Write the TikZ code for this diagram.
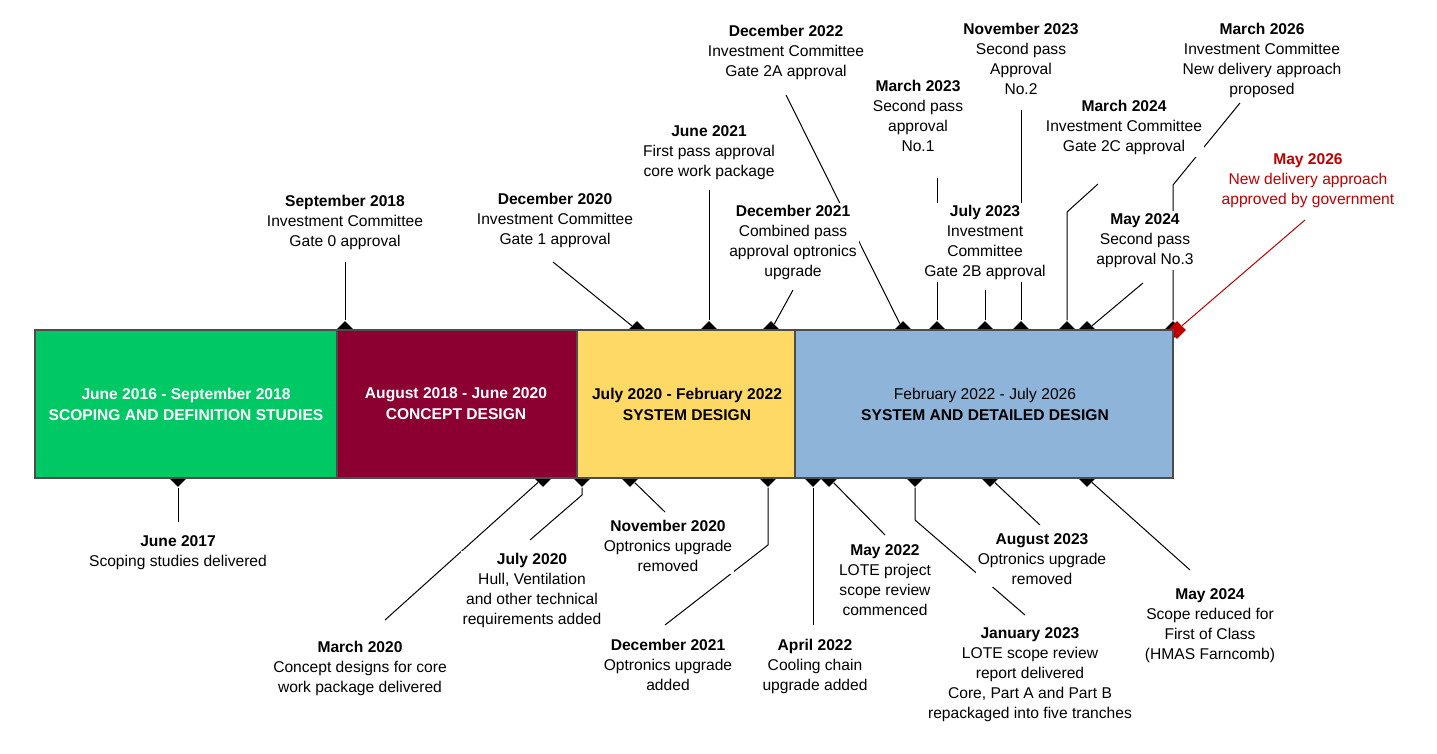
\documentclass[tikz,border=0pt]{standalone}
\usepackage{fontspec}
\setmainfont{Liberation Sans}
\usepackage{xcolor}
\usetikzlibrary{shapes.geometric,positioning}
\definecolor{scopegreen}{HTML}{00C865}
\definecolor{conceptred}{HTML}{8B0030}
\definecolor{sysyellow}{HTML}{FFD966}
\definecolor{detailblue}{HTML}{8EB4DA}
\definecolor{govred}{HTML}{C00000}
\tikzset{
  tick/.style={diamond,fill=black,inner sep=0pt,minimum size=9pt},
  milestone/.style={align=center,fill=white,inner sep=1pt,font=\fontsize{7.8}{10}\selectfont},
  phase/.style={draw=black!70,line width=0.6pt},
  phasetext/.style={align=center,font=\fontsize{7.8}{10.5}\selectfont\bfseries},
}
\begin{document}
\begin{tikzpicture}[x=0.5pt,y=-0.5pt,line width=0.5pt]
\useasboundingbox (0,0) rectangle (1437,754);
%% top markers
\node[tick] (t1) at (345,330) {};
\node[tick] (t2) at (637,330) {};
\node[tick] (t3) at (709,330) {};
\node[tick] (t4) at (771,330) {};
\node[tick] (t5) at (903,330) {};
\node[tick] (t6) at (937,330) {};
\node[tick] (t7) at (985,330) {};
\node[tick] (t8) at (1021,330) {};
\node[tick] (t9) at (1067,330) {};
\node[tick] (t10) at (1087,330) {};
\node[tick] (t11) at (1173,330) {};
\node[tick,fill=govred] (t12) at (1177,330) {};
%% bottom markers
\node[tick] (b1) at (178,478) {};
\node[tick] (b2) at (543,478) {};
\node[tick] (b3) at (582,478) {};
\node[tick] (b4) at (630,478) {};
\node[tick] (b5) at (768,478) {};
\node[tick] (b6) at (813,478) {};
\node[tick] (b7) at (829,478) {};
\node[tick] (b8) at (915,478) {};
\node[tick] (b9) at (990,478) {};
\node[tick] (b10) at (1087,478) {};
%% connectors (behind labels)
\coordinate (c2) at (553,262);
\coordinate (c4) at (793,290);
\coordinate (c5) at (786,95);
\coordinate (c6) at (937,178);
\coordinate (c9a) at (1067,212);
\coordinate (c9) at (1098,184);
\coordinate (c10) at (1143,283);
\coordinate (c11a) at (1173,185);
\coordinate (c11) at (1240,103);
\coordinate (c12) at (1305,220);
\coordinate (d2) at (385,620);
\coordinate (d3a) at (582,495);
\coordinate (d3) at (530,540);
\coordinate (d4) at (665,512);
\coordinate (d5a) at (768,545);
\coordinate (d5) at (665,625);
\coordinate (d7) at (885,535);
\coordinate (d8a) at (915,520);
\coordinate (d8) at (1025,615);
\coordinate (d9) at (1040,525);
\coordinate (d10) at (1190,570);
\draw (t1) -- (345,262);
\draw (t2) -- (c2);
\draw (t3) -- (709,190);
\draw (t4) -- (c4);
\draw (t5) -- (c5);
\draw (t6) -- (c6);
\draw (t7) -- (985,290);
\draw (t8) -- (1021,110);
\draw (t9) -- (c9a) -- (c9);
\draw (t10) -- (c10);
\draw (t11) -- (c11a) -- (c11);
\draw[govred] (t12) -- (c12);
\draw (b1) -- (178,522);
\draw (b2) -- (d2);
\draw (b3) -- (d3a) -- (d3);
\draw (b4) -- (d4);
\draw (b5) -- (d5a) -- (d5);
\draw (b6) -- (813,625);
\draw (b7) -- (d7);
\draw (b8) -- (d8a) -- (d8);
\draw (b9) -- (d9);
\draw (b10) -- (d10);
%% labels above
\node[milestone,anchor=north] (lt1) at (345,193) {\textbf{September 2018}\\Investment Committee\\Gate 0 approval};
\node[milestone,anchor=north] (lt2) at (555,191) {\textbf{December 2020}\\Investment Committee\\Gate 1 approval};
\node[milestone,anchor=north] (lt3) at (709,123) {\textbf{June 2021}\\First pass approval\\core work package};
\node[milestone,anchor=north] (lt4) at (793,203) {\textbf{December 2021}\\Combined pass\\approval optronics\\upgrade};
\node[milestone,anchor=north] (lt5) at (786,23) {\textbf{December 2022}\\Investment Committee\\Gate 2A approval};
\node[milestone,anchor=north] (lt6) at (918,78) {\textbf{March 2023}\\Second pass\\approval\\No.1};
\node[milestone,anchor=north] (lt7) at (985,203) {\textbf{July 2023}\\Investment\\Committee\\Gate 2B approval};
\node[milestone,anchor=north] (lt8) at (1021,21) {\textbf{November 2023}\\Second pass\\Approval\\No.2};
\node[milestone,anchor=north] (lt9) at (1124,98) {\textbf{March 2024}\\Investment Committee\\Gate 2C approval};
\node[milestone,anchor=north] (lt10) at (1145,211) {\textbf{May 2024}\\Second pass\\approval No.3};
\node[milestone,anchor=north] (lt11) at (1262,21) {\textbf{March 2026}\\Investment Committee\\New delivery approach\\proposed};
\node[milestone,anchor=north,text=govred] (lt12) at (1308,151) {\textbf{May 2026}\\New delivery approach\\approved by government};
%% labels below
\node[milestone,anchor=north] (lb1) at (178,533) {\textbf{June 2017}\\Scoping studies delivered};
\node[milestone,anchor=north] (lb2) at (360,639) {\textbf{March 2020}\\Concept designs for core\\work package delivered};
\node[milestone,anchor=north] (lb3) at (532,551) {\textbf{July 2020}\\Hull, Ventilation\\and other technical\\requirements added};
\node[milestone,anchor=north] (lb4) at (668,518) {\textbf{November 2020}\\Optronics upgrade\\removed};
\node[milestone,anchor=north] (lb5) at (668,637) {\textbf{December 2021}\\Optronics upgrade\\added};
\node[milestone,anchor=north] (lb6) at (815,637) {\textbf{April 2022}\\Cooling chain\\upgrade added};
\node[milestone,anchor=north] (lb7) at (885,542) {\textbf{May 2022}\\LOTE project\\scope review\\commenced};
\node[milestone,anchor=north] (lb8) at (1030,625) {\textbf{January 2023}\\LOTE scope review\\report delivered\\Core, Part A and Part B\\repackaged into five tranches};
\node[milestone,anchor=north] (lb9) at (1042,531) {\textbf{August 2023}\\Optronics upgrade\\removed};
\node[milestone,anchor=north] (lb10) at (1210,586) {\textbf{May 2024}\\Scope reduced for\\First of Class\\(HMAS Farncomb)};
%% phases
\draw[phase,fill=scopegreen] (35,330) rectangle (337,478);
\draw[phase,fill=conceptred] (337,330) rectangle (577,478);
\draw[phase,fill=sysyellow] (577,330) rectangle (795,478);
\draw[phase,fill=detailblue] (795,330) rectangle (1173,478);
\node[phasetext,text=white] (p1) at (186,404) {June 2016 - September 2018\\SCOPING AND DEFINITION STUDIES};
\node[phasetext,text=white] (p2) at (456,404) {August 2018 - June 2020\\CONCEPT DESIGN};
\node[phasetext] (p3) at (687,404) {July 2020 - February 2022\\SYSTEM DESIGN};
\node[phasetext] (p4) at (985,404) {\mdseries February 2022 - July 2026\\SYSTEM AND DETAILED DESIGN};
\end{tikzpicture}
\end{document}
